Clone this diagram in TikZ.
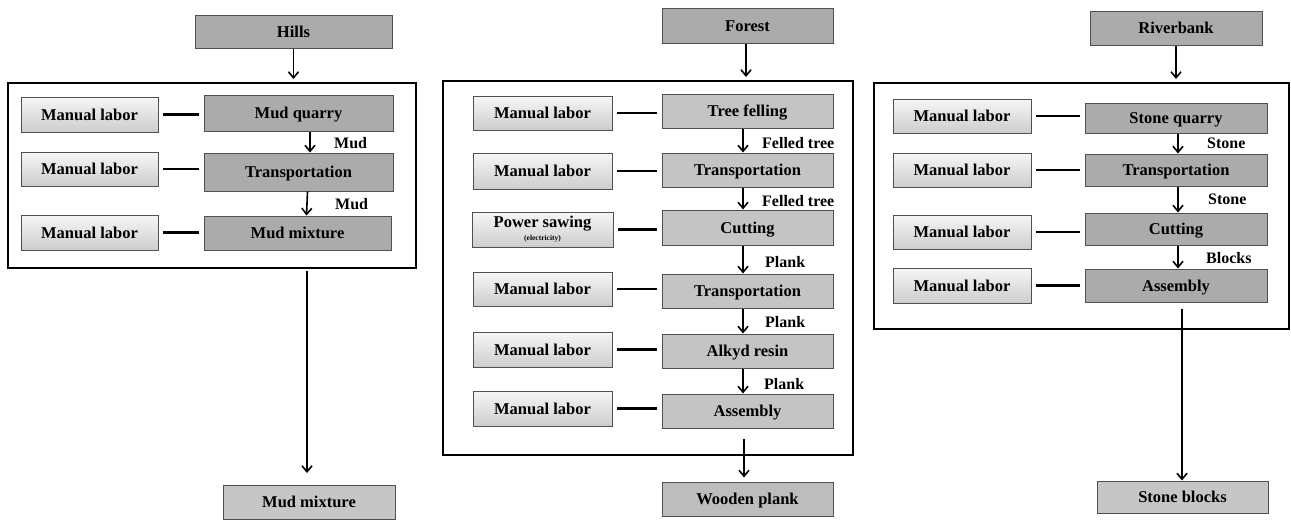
\documentclass[tikz,border=0pt]{standalone}
\usepackage{fontspec}
\setmainfont{Liberation Serif}
\usetikzlibrary{arrows.meta,shadows}
\definecolor{procA}{HTML}{ABABAB}
\definecolor{procB}{HTML}{C4C4C4}
\definecolor{outA}{HTML}{C6C6C6}
\definecolor{outB}{HTML}{BDBDBD}
\definecolor{mlTop}{HTML}{F6F6F6}
\definecolor{mlBot}{HTML}{CDCDCD}
\definecolor{edge}{HTML}{505050}
\tikzset{
  base/.style={rectangle, draw=edge, line width=1pt, inner sep=0pt,
    text height=13.5pt, text depth=2.5pt,
    font=\fontsize{16.5}{18}\selectfont\bfseries,
    drop shadow={opacity=0.25, shadow xshift=1pt, shadow yshift=-1.2pt}},
  ml/.style={base, top color=mlTop, bottom color=mlBot},
  pa/.style={base, fill=procA},
  pb/.style={base, fill=procB},
  oa/.style={base, fill=outA},
  ob/.style={base, fill=outB},
  frame/.style={rectangle, draw=black, line width=2pt, inner sep=0pt},
  arr/.style={-{Straight Barb[length=6pt,width=10pt,line width=1.6pt]}, line width=1.6pt},
  conn/.style={line width=2.2pt, shorten <=4.5pt, shorten >=4.5pt},
  lbl/.style={anchor=west, inner sep=0pt, font=\fontsize{16}{18}\selectfont\bfseries}
}
\begin{document}
\begin{tikzpicture}[x=1pt,y=-1pt]
\useasboundingbox (0,0) rectangle (1291,520);
% ---------------- Panel 1: Hills ----------------
\node[pa, minimum width=197, minimum height=33] (hills) at (293.5,31.5) {Hills};
\node[frame, minimum width=408, minimum height=185] (f1) at (212,175.5) {};
\node[ml, minimum width=137, minimum height=35] (m11) at (89.5,114.5) {Manual labor};
\node[ml, minimum width=137, minimum height=34] (m12) at (89.5,169) {Manual labor};
\node[ml, minimum width=137, minimum height=35] (m13) at (89.5,232.5) {Manual labor};
\node[pa, minimum width=189, minimum height=36] (mq) at (298.5,113) {Mud quarry};
\node[pa, minimum width=189, minimum height=38] (tr1) at (298.5,172) {Transportation};
\node[pa, minimum width=187, minimum height=34] (mm) at (297.5,233) {Mud mixture};
\node[oa, minimum width=172, minimum height=34] (mmf) at (309,502) {Mud mixture};
\draw[arr] (hills.south) -- ([yshift=3pt]f1.north -| hills.south);
\draw[conn] (m11.east) -- (m11.east -| mq.west);
\draw[conn] (m12.east) -- (m12.east -| tr1.west);
\draw[conn] (m13.east) -- (m13.east -| mm.west);
\draw[arr] ([xshift=11.5pt]mq.south) -- ([xshift=11.5pt]tr1.north);
\draw[arr] ([xshift=9pt]tr1.south) -- ([xshift=9pt]mm.north);
\node[lbl] (l11) at (334,143) {Mud};
\node[lbl] (l12) at (335,204) {Mud};
\coordinate (e1) at (307,473);
\draw[arr] ([yshift=-2pt]f1.south -| e1) -- (e1);
% ---------------- Panel 2: Forest ----------------
\node[pa, minimum width=171, minimum height=35] (forest) at (747.5,25.5) {Forest};
\node[frame, minimum width=410, minimum height=374] (f2) at (648,268) {};
\node[ml, minimum width=139, minimum height=34] (m21) at (542.5,113) {Manual labor};
\node[ml, minimum width=139, minimum height=36] (m22) at (542.5,171) {Manual labor};
\node[ml, minimum width=141, minimum height=35, align=center, text height=, text depth=] (m23) at (542.5,229.5) {Power sawing\\[-5pt]{\fontsize{7.5}{8}\selectfont(electricity)}};
\node[ml, minimum width=139, minimum height=34] (m24) at (542.5,289) {Manual labor};
\node[ml, minimum width=139, minimum height=35] (m25) at (542.5,349.5) {Manual labor};
\node[ml, minimum width=139, minimum height=35] (m26) at (542.5,408.5) {Manual labor};
\node[pb, minimum width=171, minimum height=34] (tf) at (747.5,111) {Tree felling};
\node[pb, minimum width=171, minimum height=34] (tr2) at (747.5,170) {Transportation};
\node[pb, minimum width=171, minimum height=35] (cu2) at (747.5,227.5) {Cutting};
\node[pb, minimum width=171, minimum height=34] (tr3) at (747.5,291) {Transportation};
\node[pb, minimum width=171, minimum height=34] (ar) at (747.5,351) {Alkyd resin};
\node[pb, minimum width=171, minimum height=34] (as2) at (747.5,411) {Assembly};
\node[ob, minimum width=171, minimum height=34] (wp) at (747.5,499) {Wooden plank};
\draw[arr] ([xshift=-1.5pt]forest.south) -- ([yshift=3pt]f2.north -| 746,0);
\draw[conn] (m21.east) -- (m21.east -| tf.west);
\draw[conn] (m22.east) -- (m22.east -| tr2.west);
\draw[conn] (m23.east) -- (m23.east -| cu2.west);
\draw[conn] (m24.east) -- (m24.east -| tr3.west);
\draw[conn] (m25.east) -- (m25.east -| ar.west);
\draw[conn] (m26.east) -- (m26.east -| as2.west);
\draw[arr] ([xshift=-4.5pt]tf.south) -- ([xshift=-4.5pt]tr2.north);
\draw[arr] ([xshift=-4.5pt]tr2.south) -- ([xshift=-4.5pt]cu2.north);
\draw[arr] ([xshift=-4.5pt]cu2.south) -- ([xshift=-4.5pt]tr3.north);
\draw[arr] ([xshift=-4.5pt]tr3.south) -- ([xshift=-4.5pt]ar.north);
\draw[arr] ([xshift=-4.5pt]ar.south) -- ([xshift=-4.5pt]as2.north);
\node[lbl] (l21) at (762,143) {Felled tree};
\node[lbl] (l22) at (762,201) {Felled tree};
\node[lbl] (l23) at (765,262) {Plank};
\node[lbl] (l24) at (765,322) {Plank};
\node[lbl] (l25) at (764,384) {Plank};
\draw[arr] ([xshift=-3.5pt,yshift=-10pt]as2.south) -- ([xshift=-3.5pt,yshift=4pt]wp.north);
% ---------------- Panel 3: Riverbank ----------------
\node[pa, minimum width=172, minimum height=34] (river) at (1176,28) {Riverbank};
\node[frame, minimum width=415, minimum height=246] (f3) at (1081,206) {};
\node[ml, minimum width=138, minimum height=34] (m31) at (962,116) {Manual labor};
\node[ml, minimum width=138, minimum height=34] (m32) at (962,170) {Manual labor};
\node[ml, minimum width=138, minimum height=34] (m33) at (962,232) {Manual labor};
\node[ml, minimum width=138, minimum height=35] (m34) at (962,285.5) {Manual labor};
\node[pa, minimum width=182, minimum height=30] (sq) at (1176,118) {Stone quarry};
\node[pa, minimum width=182, minimum height=32] (tr4) at (1176,170) {Transportation};
\node[pa, minimum width=182, minimum height=32] (cu3) at (1176,229) {Cutting};
\node[pa, minimum width=182, minimum height=33] (as3) at (1176,285.5) {Assembly};
\node[oa, minimum width=171, minimum height=32] (sb) at (1182.5,497) {Stone blocks};
\draw[arr] (river.south) -- ([yshift=3pt]f3.north -| river.south);
\draw[conn] (m31.east) -- (m31.east -| sq.west);
\draw[conn] (m32.east) -- (m32.east -| tr4.west);
\draw[conn] (m33.east) -- (m33.east -| cu3.west);
\draw[conn] (m34.east) -- (m34.east -| as3.west);
\draw[arr] ([xshift=2pt]sq.south) -- ([xshift=2pt]tr4.north);
\draw[arr] ([xshift=2pt]tr4.south) -- ([xshift=2pt]cu3.north);
\draw[arr] ([xshift=2pt]cu3.south) -- ([xshift=2pt]as3.north);
\node[lbl] (l31) at (1207,143) {Stone};
\node[lbl] (l32) at (1208,199) {Stone};
\node[lbl] (l33) at (1206,258) {Blocks};
\draw[arr] ([xshift=6pt,yshift=-6pt]as3.south) -- ([xshift=6pt]as3.south |- sb.north);
\end{tikzpicture}
\end{document}
